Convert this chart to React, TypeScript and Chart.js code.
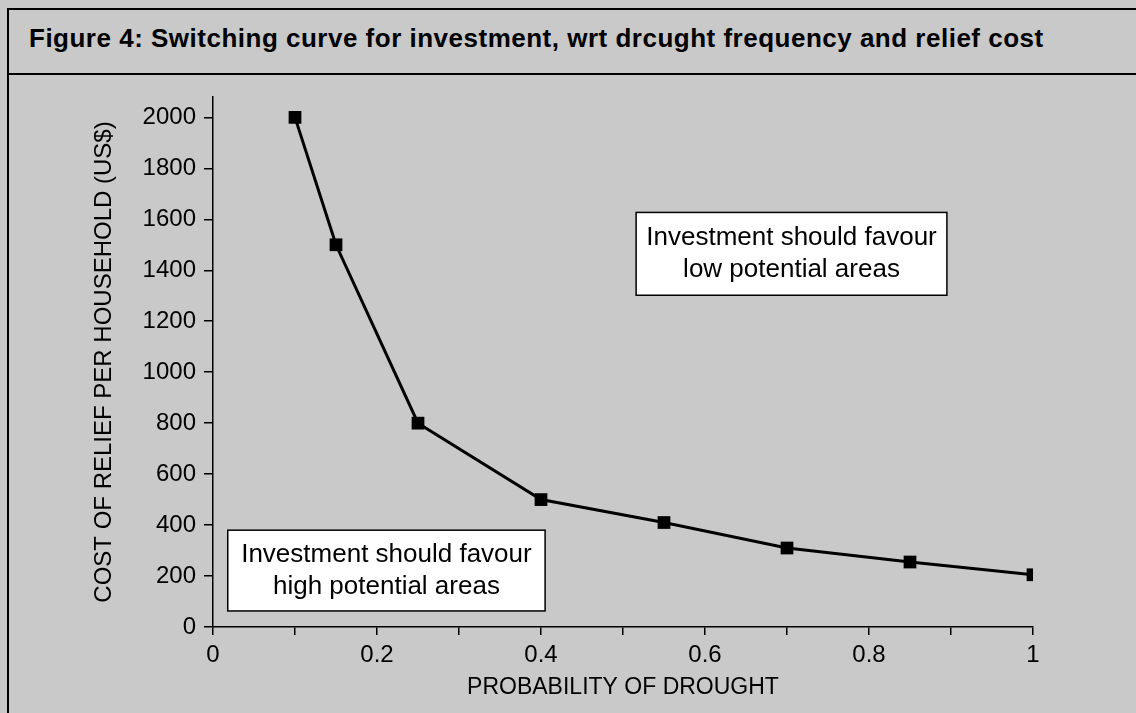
import React, { useEffect, useRef } from "react";
import { Chart, registerables } from "chart.js";

Chart.register(...registerables);

const probabilities = [0.1, 0.15, 0.25, 0.4, 0.55, 0.7, 0.85, 1];
const reliefCosts = [2000, 1500, 800, 500, 410, 310, 255, 205];
const xTickValues = [0, 0.2, 0.4, 0.6, 0.8, 1];
const xTickLabels = ["0", "0.2", "0.4", "0.6", "0.8", "1"];
const yTickValues = [0, 200, 400, 600, 800, 1000, 1200, 1400, 1600, 1800, 2000];
const titleText =
  "Figure 4: Switching curve for investment, wrt drcught frequency and relief cost";
const xAxisTitle = "PROBABILITY OF DROUGHT";
const yAxisTitle = "COST OF RELIEF PER HOUSEHOLD (US$)";
const lowBoxLines = ["Investment should favour", "low potential areas"];
const highBoxLines = ["Investment should favour", "high potential areas"];

// annotation boxes anchored in data space
const annotationBoxes = [
  { x0: 0.516, x1: 0.895, y0: 1302, y1: 1627, lines: lowBoxLines },
  { x0: 0.018, x1: 0.405, y0: 63, y1: 380, lines: highBoxLines },
];

const FONT = '"Liberation Sans", Arial, Helvetica, sans-serif';
const BG = "#c9c9c9";

const boxPlugin = {
  id: "regionBoxes",
  afterDatasetsDraw(chart: any) {
    const { ctx } = chart;
    const xs = chart.scales.x;
    const ys = chart.scales.y;
    annotationBoxes.forEach((b) => {
      const l = xs.getPixelForValue(b.x0);
      const r = xs.getPixelForValue(b.x1);
      const t = ys.getPixelForValue(b.y1);
      const bt = ys.getPixelForValue(b.y0);
      ctx.save();
      ctx.fillStyle = "#ffffff";
      ctx.fillRect(l, t, r - l, bt - t);
      ctx.strokeStyle = "#000";
      ctx.lineWidth = 1.5;
      ctx.strokeRect(l, t, r - l, bt - t);
      ctx.fillStyle = "#000";
      ctx.font = `26px ${FONT}`;
      ctx.textAlign = "center";
      ctx.textBaseline = "middle";
      const cx = (l + r) / 2;
      const cy = (t + bt) / 2;
      const gap = 32;
      b.lines.forEach((line, i) => {
        ctx.fillText(line, cx, cy + (i - (b.lines.length - 1) / 2) * gap);
      });
      ctx.restore();
    });
  },
};

export default function App() {
  const canvasRef = useRef<HTMLCanvasElement | null>(null);

  useEffect(() => {
    if (!canvasRef.current) return;
    const chart = new Chart(canvasRef.current, {
      type: "line",
      data: {
        datasets: [
          {
            data: probabilities.map((p, i) => ({ x: p, y: reliefCosts[i] })),
            borderColor: "#000",
            borderWidth: 3,
            pointStyle: "rect",
            pointRadius: 9,
            pointBackgroundColor: "#000",
            pointBorderWidth: 0,
            tension: 0,
          },
        ],
      },
      options: {
        animation: false,
        responsive: true,
        maintainAspectRatio: false,
        layout: { padding: { left: 80, right: 103, top: 97, bottom: 0 } },
        plugins: {
          legend: { display: false },
          tooltip: { enabled: false },
        },
        scales: {
          x: {
            type: "linear",
            min: 0,
            max: 1,
            afterBuildTicks: (scale: any) => {
              const t = [];
              for (let i = 0; i <= 10; i++) t.push({ value: i / 10 });
              scale.ticks = t;
            },
            afterFit: (scale: any) => {
              scale.height = 86;
              scale.paddingLeft = 0;
              scale.paddingRight = 0;
            },
            ticks: {
              autoSkip: false,
              maxRotation: 0,
              padding: 6,
              color: "#000",
              font: { family: FONT, size: 24 },
              callback: (v: any) => {
                const idx = xTickValues.findIndex((t) => Math.abs(t - v) < 1e-6);
                return idx >= 0 ? xTickLabels[idx] : "";
              },
            },
            grid: {
              display: true,
              drawOnChartArea: false,
              drawTicks: true,
              tickLength: 8,
              color: "#000",
              lineWidth: 1.5,
            },
            border: { display: true, color: "#000", width: 1.5 },
            title: {
              display: true,
              text: xAxisTitle,
              color: "#000",
              font: { family: FONT, size: 23 },
              padding: { top: 0, bottom: 12 },
            },
          },
          y: {
            type: "linear",
            min: 0,
            max: 2080,
            afterBuildTicks: (scale: any) => {
              scale.ticks = yTickValues.map((v) => ({ value: v }));
            },
            afterFit: (scale: any) => {
              scale.width = 133;
              scale.paddingTop = 0;
              scale.paddingBottom = 0;
            },
            ticks: {
              autoSkip: false,
              padding: 8,
              color: "#000",
              font: { family: FONT, size: 24 },
              callback: (v: any) => String(v),
            },
            grid: {
              display: true,
              drawOnChartArea: false,
              drawTicks: true,
              tickLength: 9,
              color: "#000",
              lineWidth: 1.5,
            },
            border: { display: true, color: "#000", width: 1.5 },
            title: {
              display: true,
              text: yAxisTitle,
              color: "#000",
              font: { family: FONT, size: 24 },
              padding: { top: 10, bottom: 0 },
            },
          },
        },
      },
      plugins: [boxPlugin],
    });
    return () => chart.destroy();
  }, []);

  return (
    <div
      style={{
        position: "fixed",
        left: 0,
        top: 0,
        width: 1136,
        height: 713,
        background: BG,
        overflow: "hidden",
      }}
    >
      <div
        style={{
          position: "absolute",
          left: 7,
          top: 8,
          width: 1140,
          height: 720,
          borderTop: "2px solid #000",
          borderLeft: "2px solid #000",
          boxSizing: "border-box",
        }}
      />
      <div
        style={{
          position: "absolute",
          left: 7,
          top: 73,
          width: 1140,
          height: 0,
          borderTop: "2px solid #000",
        }}
      />
      <div
        style={{
          position: "absolute",
          left: 29,
          top: 23,
          fontFamily: FONT,
          fontWeight: "bold",
          fontSize: 26,
          letterSpacing: 0.5,
          lineHeight: "30px",
          color: "#000",
          whiteSpace: "nowrap",
        }}
      >
        {titleText}
      </div>
      <div style={{ position: "absolute", left: 0, top: 0, width: 1136, height: 713 }}>
        <canvas ref={canvasRef} />
      </div>
    </div>
  );
}
